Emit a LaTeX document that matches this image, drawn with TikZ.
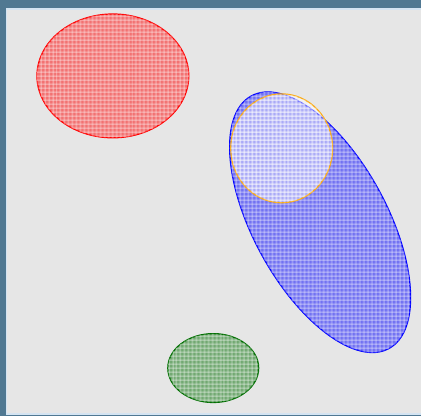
\documentclass[tikz,border=0pt]{standalone}
\usepackage{xcolor}
\usepackage{tikz}
\usetikzlibrary{patterns.meta}

\definecolor{frameblue}{RGB}{80,120,146}
\definecolor{paneledge}{RGB}{212,228,242}
\definecolor{panelgray}{RGB}{230,230,230}
\definecolor{amber}{RGB}{250,170,20}
\definecolor{darkgreen}{RGB}{0,110,0}

\begin{document}
\begin{tikzpicture}[
  x=1pt, y=1pt,
  hatch/.style={line width=1.2pt,
    postaction={pattern={Lines[angle=0,distance=4pt,line width=1pt]}, pattern color=white, fill opacity=0.5},
    postaction={pattern={Lines[angle=90,distance=4pt,line width=1pt]}, pattern color=white, fill opacity=0.5}},
  blob/.style={hatch, draw=#1, fill=#1, fill opacity=0.5, draw opacity=1}
]
% window and canvas
\fill[frameblue] (0,0) rectangle (422,416);
\fill[paneledge] (6,1) rectangle (422,408);
\fill[panelgray] (7,3) rectangle (422,406);

% regions
\draw[blob=red] (113,340) ellipse [x radius=76, y radius=62];
\draw[blob=blue] (320.5,193.5) ellipse [x radius=144, y radius=67, rotate=-61.4];
\draw[hatch, draw=amber, fill=white, fill opacity=0.4] (282,267.5) ellipse [x radius=51, y radius=54.5];
\draw[blob=darkgreen] (213.5,47.5) ellipse [x radius=45.5, y radius=34.5];
\end{tikzpicture}
\end{document}
